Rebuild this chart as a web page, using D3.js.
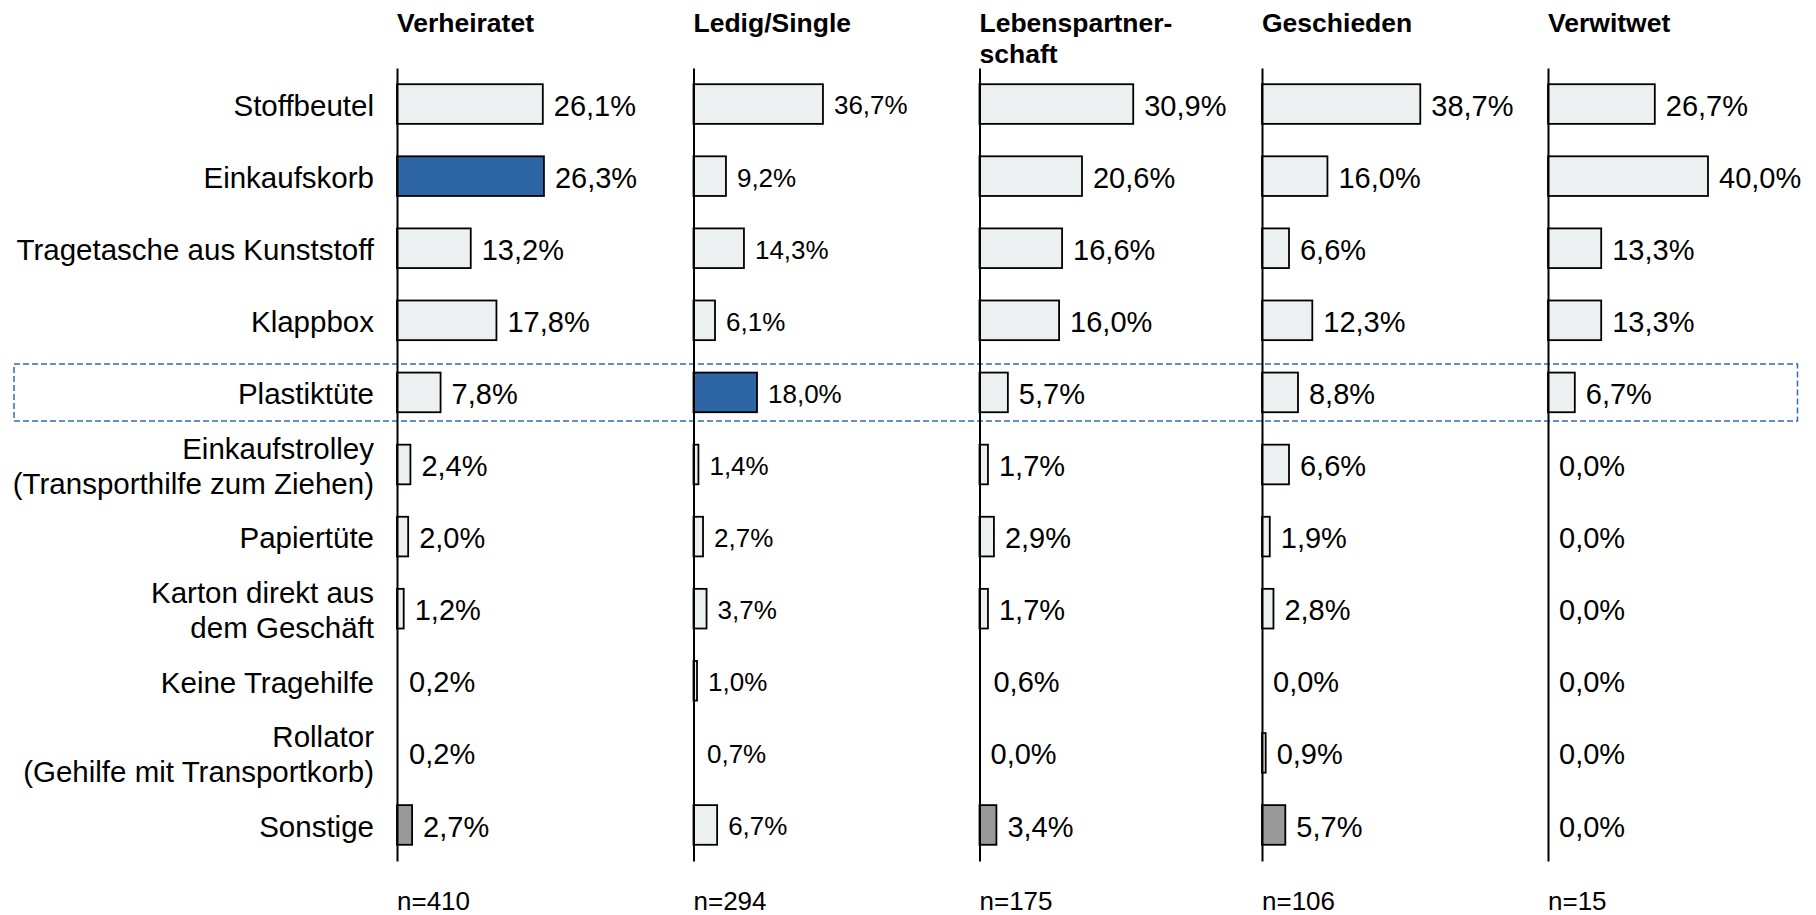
<!DOCTYPE html>
<html>
<head>
<meta charset="utf-8">
<script src="https://cdnjs.cloudflare.com/ajax/libs/d3/7.8.5/d3.min.js"></script>
<style>
  body { margin: 0; background: #fff; }
  svg { display: block; font-family: 'Liberation Sans', Arial, sans-serif; }
</style>
</head>
<body>
<div class="svg-container"></div>
<script>
// categories (multi-line labels are split into lines)
const categories = [
  ['Stoffbeutel'],
  ['Einkaufskorb'],
  ['Tragetasche aus Kunststoff'],
  ['Klappbox'],
  ['Plastiktüte'],
  ['Einkaufstrolley', '(Transporthilfe zum Ziehen)'],
  ['Papiertüte'],
  ['Karton direkt aus', 'dem Geschäft'],
  ['Keine Tragehilfe'],
  ['Rollator', '(Gehilfe mit Transportkorb)'],
  ['Sonstige']
];
const groups = [['Verheiratet'], ['Ledig/Single'], ['Lebenspartner-', 'schaft'], ['Geschieden'], ['Verwitwet']];
const sampleSizes = [410, 294, 175, 106, 15];

// shares in percent, same order as categories
const verheiratet = [26.1, 26.3, 13.2, 17.8, 7.8, 2.4, 2.0, 1.2, 0.2, 0.2, 2.7];
const ledig = [36.7, 9.2, 14.3, 6.1, 18.0, 1.4, 2.7, 3.7, 1.0, 0.7, 6.7];
const lebenspartner = [30.9, 20.6, 16.6, 16.0, 5.7, 1.7, 2.9, 1.7, 0.6, 0.0, 3.4];
const geschieden = [38.7, 16.0, 6.6, 12.3, 8.8, 6.6, 1.9, 2.8, 0.0, 0.9, 5.7];
const verwitwet = [26.7, 40.0, 13.3, 13.3, 6.7, 0.0, 0.0, 0.0, 0.0, 0.0, 0.0];
const seriesValues = [verheiratet, ledig, lebenspartner, geschieden, verwitwet];

// each panel had its own auto-scaled value axis
const axisMax = [35.8, 56.7, 40.2, 48.9, 50];

// [panel, category] cells with special colouring
const blueCells = [[0, 1], [1, 4]];
const greyCells = [[0, 10], [2, 10], [3, 10]];
const highlightCategory = 'Plastiktüte';

function renderPanels() {
  const width = 1816;
  const height = 915;
  const panelX = [397, 693.5, 979.5, 1262, 1548];
  const plotWidth = 200;
  const labelRight = 374;
  const valueFontSizes = [29, 26, 29, 29, 29];

  const colors = { light: '#edf0f0', blue: '#2e66a5', grey: '#999999', box: '#2f6db3' };

  const locale = d3.formatLocale({ decimal: ',', thousands: '.', grouping: [3], currency: ['', ' €'] });
  const fmt = locale.format('.1f');

  const keys = categories.map(c => c.join(' '));

  const svg = d3.select('.svg-container')
    .append('svg')
    .attr('width', width)
    .attr('height', height);

  svg.append('rect').attr('width', width).attr('height', height).attr('fill', '#fff');

  const y = d3.scaleBand()
    .domain(keys)
    .range([68, 861])
    .paddingInner(0.45)
    .paddingOuter(0.225);

  // dashed box round the highlighted row
  const hy = y(highlightCategory) + y.bandwidth() / 2;
  svg.append('rect')
    .attr('x', 14)
    .attr('y', hy - 28.5)
    .attr('width', 1797.5 - 14)
    .attr('height', 57)
    .attr('fill', 'none')
    .attr('stroke', colors.box)
    .attr('stroke-width', 1.5)
    .attr('stroke-dasharray', '6,3');

  // category labels
  const catLabels = svg.selectAll('.cat')
    .data(categories)
    .enter()
    .append('text')
    .attr('class', 'cat')
    .attr('text-anchor', 'end')
    .attr('font-size', 29.5)
    .attr('fill', '#000')
    .attr('x', labelRight)
    .attr('y', (d, i) => y(keys[i]) + y.bandwidth() / 2);

  catLabels.selectAll('tspan')
    .data(d => d.map(line => ({ line, n: d.length })))
    .enter()
    .append('tspan')
    .attr('x', labelRight)
    .attr('dy', (d, j) => j === 0 ? ((0.4 - (d.n - 1) * 0.6) + 'em') : '1.2em')
    .text(d => d.line);

  groups.forEach((title, p) => {
    const x = d3.scaleLinear().domain([0, axisMax[p]]).range([0, plotWidth]);
    const g = svg.append('g').attr('transform', `translate(${panelX[p]},0)`);

    const rows = seriesValues[p].map((v, i) => ({ v, i, key: keys[i] }));

    const fillOf = d => {
      if (blueCells.some(c => c[0] === p && c[1] === d.i)) return colors.blue;
      if (greyCells.some(c => c[0] === p && c[1] === d.i)) return colors.grey;
      return colors.light;
    };

    // very thin bars were not visible in the original
    g.selectAll('.bar')
      .data(rows.filter(d => x(d.v) >= 3.2))
      .enter()
      .append('rect')
      .attr('class', 'bar')
      .attr('x', 0)
      .attr('y', d => y(d.key))
      .attr('width', d => x(d.v))
      .attr('height', y.bandwidth())
      .attr('fill', fillOf)
      .attr('stroke', '#000')
      .attr('stroke-width', 1.8);

    g.selectAll('.val')
      .data(rows)
      .enter()
      .append('text')
      .attr('class', 'val')
      .attr('x', d => x(d.v) + 11)
      .attr('y', d => y(d.key) + y.bandwidth() / 2)
      .attr('dy', '0.4em')
      .attr('font-size', valueFontSizes[p])
      .attr('fill', '#000')
      .text(d => fmt(d.v) + '%');

    // vertical category axis, no ticks
    const axis = g.append('g')
      .call(d3.axisLeft(y).tickSize(0).tickFormat(''));
    axis.select('.domain').attr('stroke', '#000').attr('stroke-width', 2);

    // panel title
    const t = g.append('text')
      .attr('font-size', 26.5)
      .attr('font-weight', 'bold')
      .attr('fill', '#000')
      .attr('y', 32);
    t.selectAll('tspan')
      .data(title)
      .enter()
      .append('tspan')
      .attr('x', 0)
      .attr('dy', (d, j) => j === 0 ? 0 : 30.7)
      .text(d => d);

    g.append('text')
      .attr('x', 0)
      .attr('y', 910)
      .attr('font-size', 26)
      .attr('fill', '#000')
      .text('n=' + sampleSizes[p]);
  });
}

renderPanels();
</script>
</body>
</html>
